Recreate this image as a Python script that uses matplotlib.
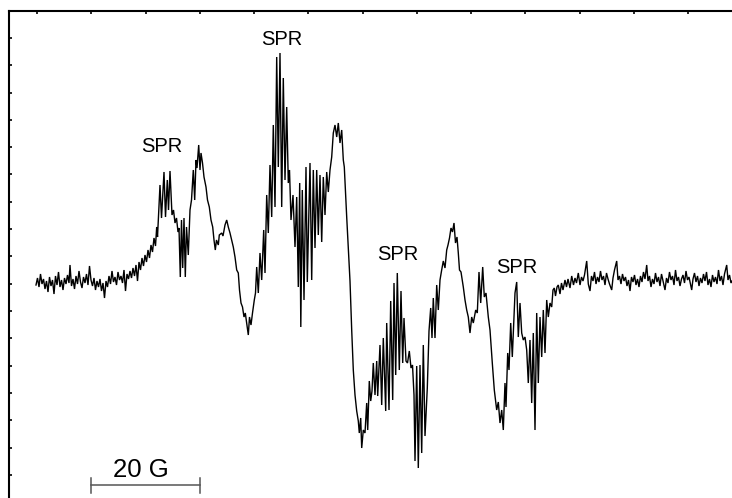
import numpy as np
import matplotlib
matplotlib.use("Agg")
import matplotlib.pyplot as plt
from matplotlib.ticker import MultipleLocator

plt.rcParams["font.family"] = ["Liberation Sans", "DejaVu Sans"]

# EPR first-derivative spectrum, recorded as (sweep point, intensity a.u.)
baseline_low = [
    (36, -2), (37.5, 5), (39, -4), (40.5, 9), (42, -1), (43.5, 4), (45, -6), (46.5, 2),
    (48, -9), (49.5, 6), (51, -3), (52.5, 3), (54, -11), (55.5, 7), (57, -2), (58.5, 11),
    (60, -4), (61.5, 3), (63, -7), (64.5, 5), (66, -1), (67.5, 8), (69, 0), (70, 18),
    (71.5, -3), (73, 4), (74.5, -6), (76, 7), (77.5, -1), (79, 12), (80.5, 1), (82, -5),
    (83.5, 6), (85, 0), (86.5, 9), (88, -2), (89.5, 17), (91, 3), (92.5, -3), (94, 5),
    (95.5, -7), (97, 2), (98.5, -4), (100, 4), (101.5, -8), (103, 0), (104.5, -15), (106, 2),
    (107.5, -4), (109, 7), (110.5, -1), (112, 12), (113.5, 1), (115, 6), (116.5, -2), (118, 11),
    (119.5, 3), (121, 7), (122.5, 0), (124, 13), (125.5, -8), (127, 9), (128.5, 4),
]

rise = [
    (130, 12), (131.5, 5), (133, 15), (134.5, 7), (136, 18), (137.5, 2), (139, 21),
    (140.5, 13), (142, 25), (143.5, 17), (145, 28), (146.5, 21), (148, 33), (149.5, 25),
    (151, 38), (152.5, 31), (154, 45), (155.5, 37), (156.7, 56), (157.5, 46),
]

band_1 = [
    (160, 98), (161.5, 65), (164, 111), (165.5, 66), (167.3, 103), (168.5, 73), (170, 112),
    (172, 68), (173.5, 73), (175, 60), (176.5, 65), (178, 51), (179, 55), (180.3, 6),
    (181.5, 63), (182.7, 15), (184, 65), (185.3, 6), (186.5, 56), (188.3, 28), (190, 73),
    (191.5, 83), (193.3, 113), (194.7, 83), (196, 123), (197, 115), (198.7, 138), (200, 113),
    (201, 130), (202.5, 120), (204, 106), (206, 96), (207.5, 83), (209.3, 76), (211, 63),
    (212.7, 56), (214, 43), (215.3, 33), (216.5, 43), (218.3, 38), (219.3, 48), (221.7, 50),
    (223, 47), (225, 58), (226.7, 63), (228.3, 56), (230, 50), (233.3, 36), (235, 26),
    (236.7, 13), (238.3, 10), (239.5, -7), (241, -20), (242.5, -24), (244, -34), (245.3, -30),
    (246.7, -40), (248.3, -52), (249.5, -34), (251, -42), (252.5, -30), (254.3, -17),
    (255.5, -10),
]

band_2 = [
    (256.7, 16), (258.3, -10), (260, 30), (261.7, 3), (263.7, 53), (265, 10), (266.7, 88),
    (268.3, 50), (270, 118), (271.7, 66), (273.3, 158), (275, 76), (276.7, 226), (278.3, 116),
    (280, 230), (281.7, 76), (283.3, 205), (285, 103), (286.7, 176), (288.3, 100),
    (289.5, 113), (291, 63), (293, 88), (295, 36), (296.7, 86), (298.3, -4), (299.7, 100),
    (300.8, -44), (302.3, 93), (304, -17), (306, 116), (307.3, 1), (310, 120), (311.7, 3),
    (313.3, 113), (315, 35), (316.7, 113), (318.3, 48), (320, 108), (321.7, 41), (323.3, 106),
    (325, 68), (326.7, 111), (328.3, 91), (330, 113), (331.7, 126), (333.3, 150), (335, 158),
    (336.7, 146), (338.3, 160), (340, 140), (341.7, 153), (343.3, 123), (344.3, 116),
]

band_3 = [
    (346.7, 66), (348.3, 35), (350, 2), (351.7, -47), (353.3, -87), (355, -112), (356.7, -128),
    (358.3, -138), (359.3, -150), (360.7, -135), (361.7, -165), (363.3, -147), (365, -150),
    (366.7, -120), (367.7, -147), (369.3, -98), (370.7, -118), (372, -108), (373.3, -80),
    (375, -112), (376.7, -78), (377.7, -113), (380, -62), (381.7, -122), (383.3, -55),
    (385.7, -128), (386.7, -40), (389, -127), (390.7, -18), (392.7, -117), (394, 0),
    (395.7, -92), (397.3, 10), (399.3, -87), (401, -8), (402.7, -80), (404, -35), (406, -78),
    (407.5, -80), (409.3, -68), (411, -85), (412.5, -82), (414, -112), (415, -178),
    (416.7, -83), (418.3, -185), (420, -82), (421.7, -170), (423.3, -62), (425, -153),
    (427.3, -105), (429, -48), (430.7, -25), (432, -55), (433.3, -15), (435, -55),
    (436.7, -2), (438.3, -27), (440, 3), (441.5, 12), (443.3, 22), (445, 15), (446.7, 33),
    (448, 38), (449.5, 45), (451, 55), (452.5, 51), (454, 60), (455.5, 40), (457, 46),
    (458.3, 30), (459.5, 13), (461, 11), (463.3, -4), (465, -17), (466.7, -27), (468.3, -34),
    (470, -50), (471.7, -34), (473.3, -40), (475.7, -27), (477.3, -30), (479, 11),
    (480.7, -20), (482.7, 16), (484.3, -14), (486, -10),
]

band_4 = [
    (488.3, -34), (490, -47), (492.3, -80), (494.3, -107), (496.7, -127), (498.3, -119),
    (500, -140), (501.7, -127), (503.3, -147), (505, -100), (506, -124), (507.7, -70),
    (509, -87), (510.7, -40), (512.3, -74), (514, -34), (515, -10), (516.7, 1), (518.3, -54),
    (520, -20), (521.7, -50), (523.3, -57), (525, -54), (526.7, -67), (528.3, -100),
    (530, -57), (531.7, -120), (533.3, -50), (535, -147), (536.7, -30), (538.3, -100),
    (540, -34), (541.7, -74), (543.3, -27), (545, -70), (546.7, -17), (548.3, -34),
    (550, -20), (551.7, -24), (553, -7), (554.3, -5), (555.5, -13), (557, -4), (558.3, -2),
]

baseline_high = [
    (560, -11), (561.5, 0), (563, -7), (565, 3), (566.5, -4), (568, 4), (570, -5), (571.7, 7),
    (573.5, -2), (575, 5), (576.5, 0), (578.3, 10), (580, -2), (581.5, 6), (583, 2),
    (584.5, 8), (586.7, 22), (588.3, -1), (590, -8), (591.5, 7), (593, 2), (594.5, 11),
    (596, -1), (597.5, 6), (599, 1), (600.5, 12), (602, 3), (603.5, 7), (605, -2),
    (606.5, 10), (608, 4), (609.5, -1), (611.7, -7), (613, 5), (614.5, 13), (616.7, 22),
    (618, 3), (619.5, 7), (621, -1), (622.5, 9), (624, 2), (625.5, 6), (627, -3), (628.5, 3),
    (630, -8), (631.5, 6), (633, 1), (634.5, 8), (636, -2), (637.5, 4), (639, -4),
    (640.5, 7), (642, 1), (643.5, 11), (645, 4), (646.7, 18), (648, 2), (649.5, 7),
    (651, -4), (652.5, 4), (654, -1), (655.5, 10), (657, 1), (658.5, 6), (660, -3),
    (661.5, 9), (663, 2), (665, -7), (666.5, 5), (668, 0), (669.5, 11), (671, 3),
    (672.5, 7), (674, -2), (675.5, 13), (677, 2), (678.5, 6), (680, -3), (681.5, 4),
    (683, 8), (684.5, 0), (686, 12), (687.5, 3), (689, 6), (691.7, -7), (693, 4),
    (694.5, 10), (696, 1), (697.5, 7), (699, -3), (700.5, 5), (702, 0), (703.5, 9),
    (705, 2), (706.5, 11), (708, -2), (709.5, 4), (711, -4), (712.5, 8), (714, 1),
    (715.5, 6), (717, -1), (718.5, 13), (720, 2), (721.5, 7), (723, -2), (724.5, 9),
    (726.7, 18), (728, 3), (729.5, 8), (731, 0), (732, 2),
]

segments = [baseline_low, rise, band_1, band_2, band_3, band_4, baseline_high]

# hyperfine groups tagged in the spectrum: (field G, intensity a.u.)
label_text = "SPR"
label_field = [3373.0, 3395.2, 3416.5, 3438.5]
label_level = [131, 238, 23, 10]

scale_bar_gauss = 20
scale_bar_text = "20 G"

# sweep calibration: 20 G spans 108.5 sweep points, 3350 G sits at point 37
G_PER_PT = 20 / 108.5
FIELD_REF, PT_REF = 3350.0, 37.0


def to_field(pt):
    return FIELD_REF + (np.asarray(pt, dtype=float) - PT_REF) * G_PER_PT


pts = np.array([p for seg in segments for p in seg], dtype=float)
field = to_field(pts[:, 0])
signal = pts[:, 1]

W, H = 732, 498
fig = plt.figure(figsize=(W / 100, H / 100), dpi=100)
ax = fig.add_axes([9 / W, -7 / H, 731 / W, 494 / H])

ax.plot(field, signal, color="black", lw=1.0, solid_joinstyle="miter")

ax.set_xlim(to_field(9), to_field(740))
ax.set_ylim(-222, 272)

for f, lvl in zip(label_field, label_level):
    ax.text(f, lvl, label_text, ha="center", va="baseline", fontsize=14.5, color="black")

# scale bar
bar_start = 3360.0
bar_y = -202
ax.plot([bar_start, bar_start + scale_bar_gauss], [bar_y, bar_y], color="#555555", lw=1.1)
for xb in (bar_start, bar_start + scale_bar_gauss):
    ax.plot([xb, xb], [bar_y + 7, bar_y - 8], color="#555555", lw=1.1)
ax.text(bar_start + scale_bar_gauss / 2 - 0.8, bar_y + 8, scale_bar_text,
        ha="center", va="baseline", fontsize=18.5, color="black")

for side in ("right", "bottom"):
    ax.spines[side].set_visible(False)
for side in ("left", "top"):
    ax.spines[side].set_linewidth(1.5)

ax.xaxis.set_major_locator(MultipleLocator(10))
ax.yaxis.set_major_locator(MultipleLocator(27.3, offset=-0.7))
ax.tick_params(axis="x", bottom=False, top=True, labelbottom=False, labeltop=False,
               direction="in", length=2, width=1.2)
ax.tick_params(axis="y", left=True, right=False, labelleft=False, labelright=False,
               direction="in", length=2, width=1.2)

fig.savefig("out.png", dpi=100, facecolor="white")
